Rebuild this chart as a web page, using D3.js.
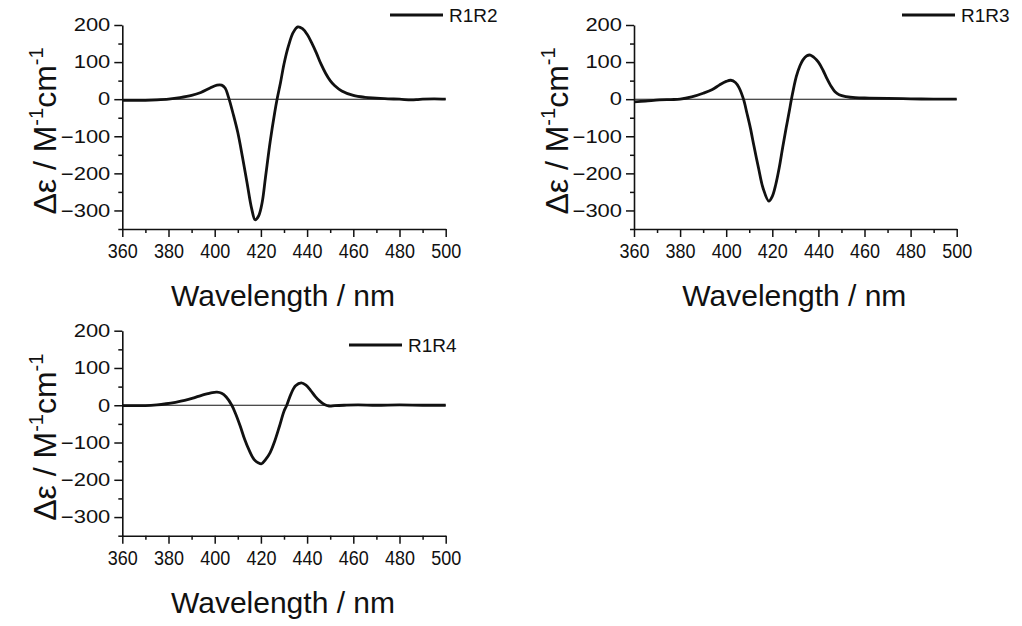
<!DOCTYPE html>
<html><head><meta charset="utf-8">
<script src="https://cdn.jsdelivr.net/npm/d3@7"></script>
<style>body{margin:0;background:#fff} text{font-family:Arial,"Liberation Sans",sans-serif;fill:#111}</style>
</head><body><svg id="c" width="1022" height="626"></svg>
<script>
const xTicks=[360,380,400,420,440,460,480,500];
const xMinor=[370,390,410,430,450,470,490];
const yTicks=[200,100,0,-100,-200,-300];
const yMinor=[150,50,-50,-150,-250,-350];
const seriesNames=["R1R2","R1R3","R1R4"];
const xTitle="Wavelength / nm";

const wl1=[360,365,370,375,380,385,390,394,398,401,403,404.5,406,408,410,412,414,416,417.5,419,420.5,422,424,426,427,428.5,430,432,434,436,438,440,442,444,446,448,450,452,455,460,465,470,475,480,485,488,490,495,500];
const de1=[-3,-3,-3,-2,0,4,10,18,30,38,38,30,5,-40,-90,-155,-225,-295,-325,-315,-280,-210,-115,-35,0,45,95,145,180,195,190,175,152,125,95,70,50,36,22,10,5,3,1,0,-2,-1,0,1,0];

const wl2=[360,365,371,376,380,385,390,394,397,400,402,404,405.5,407.5,409,410.5,412,414,416,418.5,420,421.5,423,424.5,426,427.5,428.3,430.4,432,433.3,435,436.5,438,440,442,443.6,445.5,447.2,449,452,456,462,470,480,490,500];
const de2=[-7,-5,-2,-1,0,6,16,26,38,48,51,45,32,0,-38,-78,-125,-185,-240,-275,-262,-230,-185,-130,-78,-28,0,61,90,106,117,119,113,100,78,57,35,20,12,7,4,3,2,1,0,0];

const wl3=[360,365,370,375,379,383,387,391,394,397,399,401,403,405,407.4,409,411,413,415,417,419,420.3,422,424,426,428,430,431.2,433,435,437.5,439.5,441.5,443.5,445.5,447.5,449.5,452,456,462,470,480,490,500];
const de3=[-1,-1,-1,1,4,8,13,20,26,31,34,35,32,22,0,-22,-55,-92,-122,-145,-155,-157,-146,-127,-96,-57,-16,0,30,52,60,54,40,24,11,2,-2,-1,0,1,0,1,0,0];

const panels=[
 {wl:wl1,de:de1,name:seriesNames[0],x0:122.3,x1:445.7,yT:25,yB:229,lx:390,ly:15},
 {wl:wl2,de:de2,name:seriesNames[1],x0:634,x1:956.7,yT:25,yB:229,lx:902,ly:15},
 {wl:wl3,de:de3,name:seriesNames[2],x0:122.3,x1:445.7,yT:330.7,yB:535.7,lx:349,ly:345}
];

const svg=d3.select("#c");
panels.forEach(p=>{
  const x=d3.scaleLinear().domain([360,500]).range([p.x0,p.x1]);
  const y=d3.scaleLinear().domain([-350,200]).range([p.yB,p.yT]);
  const g=svg.append("g");
  g.append("line").attr("x1",x(360)).attr("x2",x(500)).attr("y1",y(0)).attr("y2",y(0))
    .attr("stroke","#111").attr("stroke-width",1.1);
  const pts=p.wl.map((w,i)=>[w,p.de[i]]);
  g.append("path").datum(pts)
    .attr("d",d3.line().x(d=>x(d[0])).y(d=>y(d[1])).curve(d3.curveCatmullRom.alpha(0.5)))
    .attr("fill","none").attr("stroke","#111").attr("stroke-width",2.8).attr("stroke-linejoin","round");
  const ax=g.append("g").attr("transform",`translate(0,${p.yB})`)
    .call(d3.axisBottom(x).tickValues(xTicks).tickSize(8).tickSizeOuter(0).tickPadding(6).tickFormat(d3.format("d")));
  g.append("g").attr("transform",`translate(0,${p.yB})`)
    .call(d3.axisBottom(x).tickValues(xMinor).tickSize(4).tickSizeOuter(0).tickFormat(""))
    .select(".domain").remove();
  const ay=g.append("g").attr("transform",`translate(${p.x0},0)`)
    .call(d3.axisLeft(y).tickValues(yTicks).tickSize(8).tickSizeOuter(0).tickPadding(4).tickFormat(d3.format("d")));
  g.append("g").attr("transform",`translate(${p.x0},0)`)
    .call(d3.axisLeft(y).tickValues(yMinor).tickSize(4).tickSizeOuter(0).tickFormat(""))
    .select(".domain").remove();
  g.selectAll(".domain").attr("stroke","#111").attr("stroke-width",1.6);
  g.selectAll(".tick line").attr("stroke","#111").attr("stroke-width",1.5);
  g.selectAll(".tick text").attr("fill","#111")
    .style("font-family","Arial, 'Liberation Sans', sans-serif");
  ax.selectAll(".tick text").attr("font-size",18)
    .attr("y",12.4).attr("transform","scale(1,1.15)");
  ay.selectAll(".tick text").attr("font-size",18)
    .attr("x",-12/1.22).attr("transform","scale(1.22,1)");
  g.append("text").attr("x",(p.x0+p.x1)/2-1).attr("y",p.yB+77)
    .attr("text-anchor","middle").attr("font-size",30).text(xTitle);
  const yt=g.append("text").attr("transform",`translate(${p.x0-66},${(p.yT+p.yB)/2+4}) rotate(-90)`)
    .attr("text-anchor","middle").attr("font-size",32);
  yt.append("tspan").text("Δε / M");
  yt.append("tspan").attr("font-size",20).attr("dy",-13).text("-1");
  yt.append("tspan").attr("dy",13).text("cm");
  yt.append("tspan").attr("font-size",20).attr("dy",-13).text("-1");
  g.append("line").attr("x1",p.lx).attr("x2",p.lx+53).attr("y1",p.ly).attr("y2",p.ly)
    .attr("stroke","#111").attr("stroke-width",2.8);
  g.append("text").attr("x",p.lx+59).attr("y",p.ly+7).attr("font-size",19).text(p.name);
});
</script></body></html>
